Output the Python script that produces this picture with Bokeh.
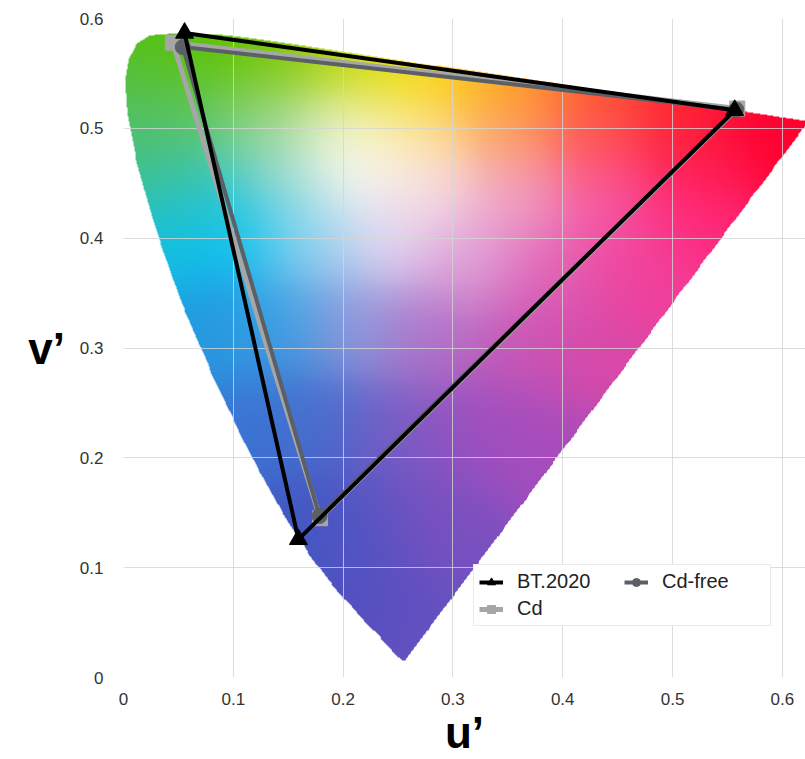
import numpy as np
from bokeh.plotting import figure
from bokeh.models import FixedTicker, Legend, LegendItem, Range1d
from bokeh.embed import file_html
from bokeh.resources import INLINE

# CIE 1931 2-degree spectral locus chromaticities (x, y)
locus_nm = [380, 385, 390, 395, 400, 405, 410, 415, 420, 425, 430, 435, 440, 445,
            450, 455, 460, 465, 470, 475, 480, 485, 490, 495, 500, 505, 510, 515,
            520, 525, 530, 535, 540, 545, 550, 555, 560, 565, 570, 575, 580, 585,
            590, 595, 600, 605, 610, 615, 620, 625, 630, 635, 640, 645, 650, 655,
            660, 665, 670, 680, 700]
locus_x = [0.1741, 0.1740, 0.1738, 0.1736, 0.1733, 0.1730, 0.1726, 0.1721, 0.1714,
           0.1703, 0.1689, 0.1669, 0.1644, 0.1611, 0.1566, 0.1510, 0.1440, 0.1355,
           0.1241, 0.1096, 0.0913, 0.0687, 0.0454, 0.0235, 0.0082, 0.0039, 0.0139,
           0.0389, 0.0743, 0.1142, 0.1547, 0.1929, 0.2296, 0.2658, 0.3016, 0.3373,
           0.3731, 0.4087, 0.4441, 0.4788, 0.5125, 0.5448, 0.5752, 0.6029, 0.6270,
           0.6482, 0.6658, 0.6801, 0.6915, 0.7006, 0.7079, 0.7140, 0.7190, 0.7230,
           0.7260, 0.7283, 0.7300, 0.7311, 0.7320, 0.7334, 0.7347]
locus_y = [0.0050, 0.0050, 0.0049, 0.0049, 0.0048, 0.0048, 0.0048, 0.0048, 0.0051,
           0.0058, 0.0069, 0.0086, 0.0109, 0.0138, 0.0177, 0.0227, 0.0297, 0.0399,
           0.0578, 0.0868, 0.1327, 0.2007, 0.2950, 0.4127, 0.5384, 0.6548, 0.7502,
           0.8120, 0.8338, 0.8262, 0.8059, 0.7816, 0.7543, 0.7243, 0.6923, 0.6589,
           0.6245, 0.5896, 0.5547, 0.5202, 0.4866, 0.4544, 0.4242, 0.3965, 0.3725,
           0.3514, 0.3340, 0.3197, 0.3083, 0.2993, 0.2920, 0.2859, 0.2809, 0.2770,
           0.2740, 0.2717, 0.2700, 0.2689, 0.2680, 0.2666, 0.2653]

ticks = [0, 0.1, 0.2, 0.3, 0.4, 0.5, 0.6]
tick_labels = ["0", "0.1", "0.2", "0.3", "0.4", "0.5", "0.6"]

series_names = ["BT.2020", "Cd", "Cd-free"]
bt2020_u = [0.5566, 0.0556, 0.1593]
bt2020_v = [0.5165, 0.5868, 0.1258]
cd_u = [0.559, 0.045, 0.179]
cd_v = [0.518, 0.578, 0.145]
cdfree_u = [0.558, 0.054, 0.1785]
cdfree_v = [0.517, 0.574, 0.147]

# colour anchors of the shaded diagram (style)
shade_u = [0.03, 0.08, 0.14, 0.20, 0.25, 0.30, 0.36, 0.43, 0.50, 0.58,
           0.01, 0.06, 0.13, 0.20, 0.27, 0.35, 0.43, 0.52,
           0.02, 0.07, 0.14, 0.21, 0.28, 0.36, 0.44, 0.51,
           0.04, 0.10, 0.17, 0.24, 0.31, 0.39, 0.46,
           0.08, 0.14, 0.21, 0.28, 0.36, 0.42,
           0.12, 0.18, 0.25, 0.32, 0.37,
           0.17, 0.22, 0.29,
           0.22, 0.26]
shade_v = [0.57, 0.575, 0.57, 0.56, 0.55, 0.545, 0.535, 0.525, 0.515, 0.505,
           0.52, 0.51, 0.51, 0.50, 0.50, 0.50, 0.49, 0.48,
           0.46, 0.45, 0.46, 0.47, 0.45, 0.44, 0.43, 0.43,
           0.40, 0.41, 0.40, 0.40, 0.38, 0.37, 0.37,
           0.32, 0.32, 0.32, 0.31, 0.30, 0.30,
           0.23, 0.23, 0.22, 0.22, 0.22,
           0.14, 0.14, 0.14,
           0.06, 0.04]
shade_c = ["#58c010", "#5cc400", "#78c800", "#b4d400", "#f4e400", "#ffc800", "#ff9a10", "#ff5a20", "#ff2828", "#ff0030",
           "#50c060", "#64c660", "#98d480", "#f4f4d0", "#ffe8b0", "#ffa080", "#ff5070", "#ff1848",
           "#40c090", "#38c4b8", "#a0dcd8", "#ffffff", "#f8e0e8", "#f0a0c8", "#f85aa8", "#ff2a80",
           "#10c0e8", "#00c4f8", "#90d4f0", "#e4d8f2", "#e0a0d8", "#e066b8", "#f0409c",
           "#2498e0", "#3aa0e4", "#9098dc", "#b070c8", "#c858b8", "#d848a8",
           "#3a74d4", "#4a6ccc", "#7a5cc4", "#9a50c0", "#a84cbc",
           "#4058c4", "#5a54c2", "#7a50c0",
           "#5050c0", "#6850c0"]

# ---- chromaticity background ----
lx = np.array(locus_x)
ly = np.array(locus_y)
lden = -2 * lx + 12 * ly + 3
lu = 4 * lx / lden
lv = 9 * ly / lden

U_MAX, V_MAX = 0.63, 0.6
nx, ny = 720, 680
us = (np.arange(nx) + 0.5) / nx * U_MAX
vs = (np.arange(ny) + 0.5) / ny * V_MAX
U, V = np.meshgrid(us, vs)

inside = np.zeros(U.shape, dtype=bool)
n = len(lu)
with np.errstate(divide="ignore", invalid="ignore"):
    for i in range(n):
        j = i - 1
        ui, vi, uj, vj = lu[i], lv[i], lu[j], lv[j]
        if vi == vj:
            continue
        cond = (vi > V) != (vj > V)
        xint = (uj - ui) * (V - vi) / (vj - vi) + ui
        inside ^= cond & (U < xint)

sigma = 0.035
num = np.zeros(U.shape + (3,))
wsum = np.full(U.shape, 1e-300)
for au, av, ac in zip(shade_u, shade_v, shade_c):
    col = np.array([int(ac[1:3], 16), int(ac[3:5], 16), int(ac[5:7], 16)], dtype=float)
    w = np.exp(-((U - au) ** 2 + (V - av) ** 2) / (2 * sigma * sigma))
    num += w[:, :, None] * col
    wsum += w
rgb = np.clip(num / wsum[:, :, None], 0, 255)

img = np.zeros((ny, nx), dtype=np.uint32)
view = img.view(dtype=np.uint8).reshape((ny, nx, 4))
view[:, :, 0] = rgb[:, :, 0].astype(np.uint8)
view[:, :, 1] = rgb[:, :, 1].astype(np.uint8)
view[:, :, 2] = rgb[:, :, 2].astype(np.uint8)
view[:, :, 3] = np.where(inside, 255, 0).astype(np.uint8)

# ---- figure ----
p = figure(width=805, height=759, output_backend="svg", toolbar_location=None,
           x_range=Range1d(0, 0.6211), y_range=Range1d(0, 0.6),
           min_border_left=123, min_border_right=0, min_border_top=18, min_border_bottom=81)
p.outline_line_color = None

p.image_rgba(image=[img], x=0, y=0, dw=U_MAX, dh=V_MAX, level="image")

for ax in (p.xaxis, p.yaxis):
    ax.ticker = FixedTicker(ticks=ticks)
    ax.major_label_overrides = {t: s for t, s in zip(ticks, tick_labels)}
    ax.axis_line_color = None
    ax.major_tick_line_color = None
    ax.minor_tick_line_color = None
    ax.major_label_text_font_size = "17px"
    ax.major_label_text_color = "#333333"
    ax.axis_label_text_font = "Liberation Sans"
    ax.axis_label_text_font_style = "bold"
    ax.axis_label_text_font_size = "44px"
    ax.axis_label_text_color = "#000000"

p.yaxis.major_label_text_font = "Liberation Sans"
p.xaxis.major_label_text_font = "Liberation Sans"
p.xaxis.major_label_standoff = 9
p.yaxis.major_label_standoff = 14

p.xaxis.axis_label = "u\u2019"
p.yaxis.axis_label = "v\u2019"
p.yaxis.axis_label_orientation = "horizontal"
p.xaxis.axis_label_standoff = 0
p.yaxis.axis_label_standoff = 12

p.grid.grid_line_color = "#d4d4d4"
p.grid.grid_line_alpha = 0.8
p.grid.grid_line_width = 1

def closed(a):
    return list(a) + [a[0]]

cd_line = p.line(closed(cd_u), closed(cd_v), line_color="#a6a6a6", line_width=5)
cd_mark = p.scatter(cd_u, cd_v, marker="square", size=15, fill_color="#a6a6a6", line_color="#a6a6a6")
cf_line = p.line(closed(cdfree_u), closed(cdfree_v), line_color="#5b5f66", line_width=4)
cf_mark = p.scatter(cdfree_u, cdfree_v, marker="circle", size=15, fill_color="#5b5f66", line_color="#5b5f66")
bt_line = p.line(closed(bt2020_u), closed(bt2020_v), line_color="#000000", line_width=4)
bt_mark = p.scatter(bt2020_u, bt2020_v, marker="triangle", size=18, fill_color="#000000", line_color="#000000")

legend = Legend(items=[
    LegendItem(label=series_names[0], renderers=[bt_line, bt_mark]),
    LegendItem(label=series_names[1], renderers=[cd_line, cd_mark]),
    LegendItem(label=series_names[2], renderers=[cf_line, cf_mark]),
], location=(350, 51), ncols=2, orientation="vertical")
legend.label_text_font = "Liberation Sans"
legend.label_text_font_size = "20px"
legend.label_text_color = "#222222"
legend.glyph_width = 24
legend.glyph_height = 20
legend.label_height = 20
legend.label_width = 103
legend.spacing = 4
legend.padding = 5
legend.margin = 0
legend.label_standoff = 14
legend.border_line_color = "#d8d8d8"
legend.background_fill_color = "#ffffff"
legend.background_fill_alpha = 1.0
p.add_layout(legend)

open("out.html", "w").write(file_html(p, INLINE))
